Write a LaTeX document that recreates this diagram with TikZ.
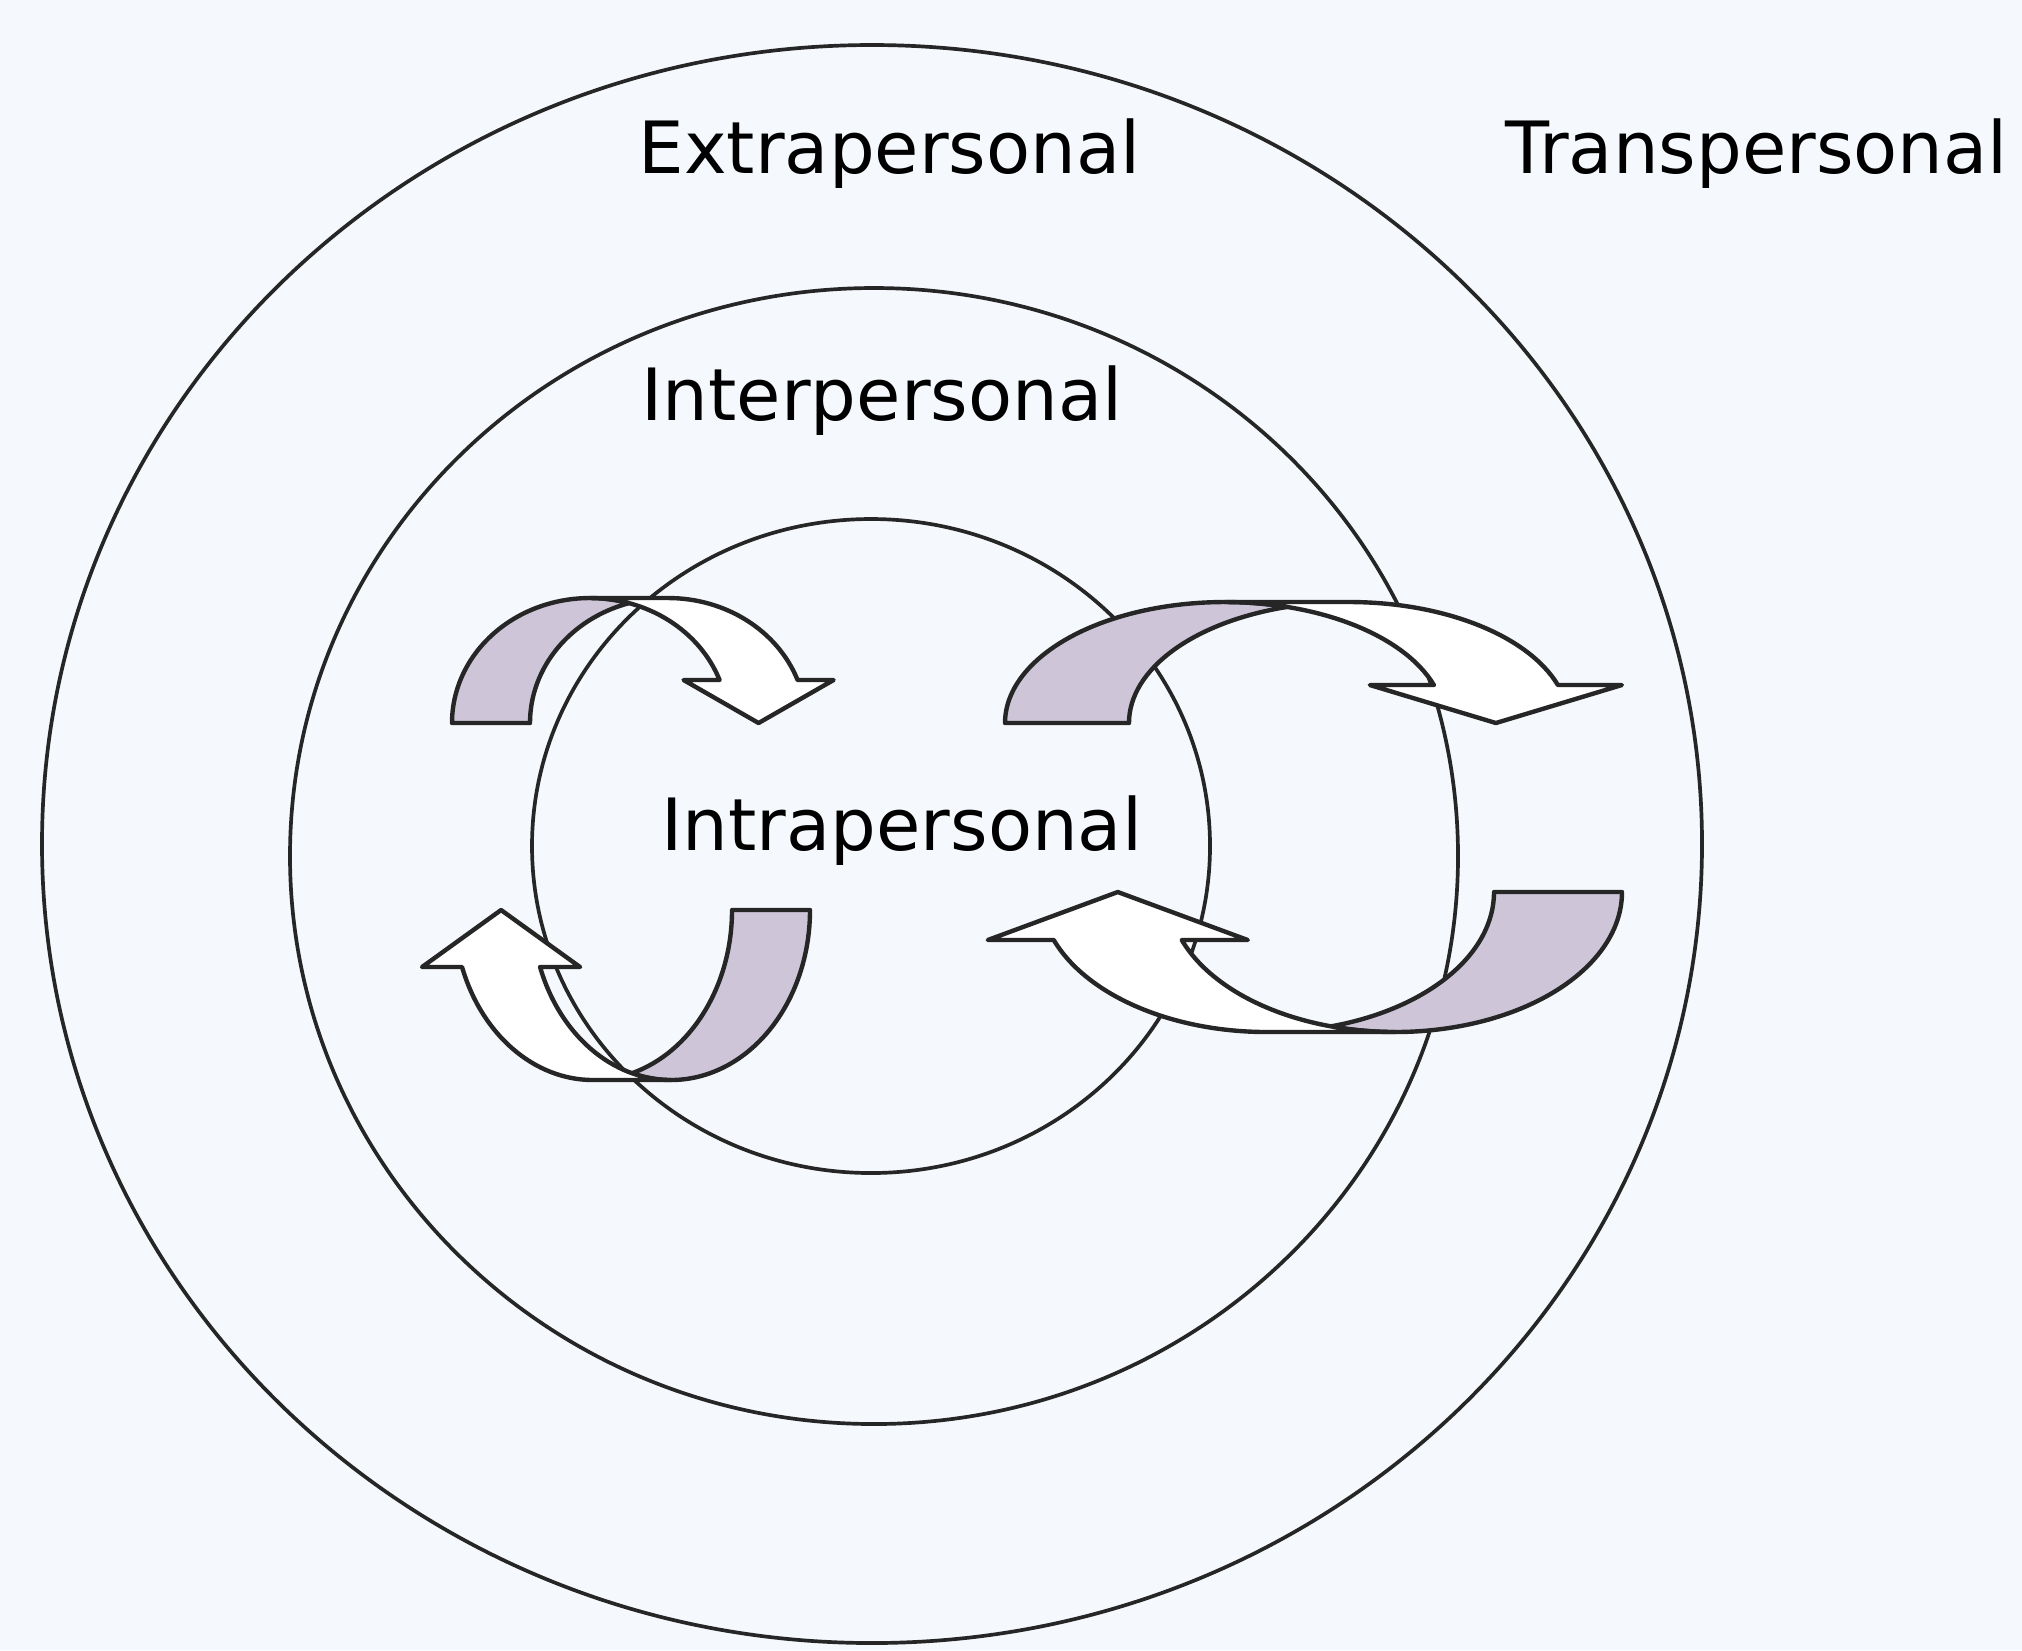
\documentclass[tikz,border=0pt]{standalone}
\usepackage{fontspec}
\setmainfont{DejaVu Sans}
\usepackage{xcolor}
\usepackage{tikz}
\usetikzlibrary{calc}
\definecolor{paper}{RGB}{245,248,252}
\definecolor{backshade}{RGB}{206,198,216}
\tikzstyle{ring}     =[draw=black!85, line width=1.05pt]
\tikzstyle{backface} =[draw=black!85, fill=backshade, line width=1.25pt, line join=round]
\tikzstyle{arrbody}  =[draw=black!85, fill=white, line width=1.25pt, line join=round]
\tikzstyle{lbl}      =[font=\fontsize{20.5}{24}\selectfont, anchor=base west, inner sep=0pt]

% curved arrow: back face on the left, arrow head bottom right
% #1 x radius, #2 height, #3 thickness, #4 head length, #5 head overhang
\newcommand{\bentarrow}[5]{%
  \pgfmathsetmacro{\cvW}{#1}%
  \pgfmathsetmacro{\cvH}{#2}%
  \pgfmathsetmacro{\cvT}{#3}%
  \pgfmathsetmacro{\cvA}{#4}%
  \pgfmathsetmacro{\cvD}{#5}%
  \pgfmathsetmacro{\cvAl}{acos(\cvT/(2*\cvW))}%
  \pgfmathsetmacro{\cvBe}{asin(\cvA/\cvH)}%
  \pgfmathsetmacro{\cvX}{\cvW*cos(\cvBe)}%
  \filldraw[backface] (0,0)
    arc[start angle=180, end angle=360-\cvAl, x radius=\cvW, y radius=\cvH]
    arc[start angle=180+\cvAl, end angle=180, x radius=\cvW, y radius=\cvH] -- cycle;
  \filldraw[arrbody] (\cvW,-\cvH) -- (\cvW+\cvT,-\cvH)
    arc[start angle=270, end angle=360-\cvBe, x radius=\cvW, y radius=\cvH]
    -- ++(\cvD,0) -- (\cvW+\cvT/2+\cvX,0) -- (\cvW+\cvX-\cvD,-\cvA) -- (\cvW+\cvX,-\cvA)
    arc[start angle=360-\cvBe, end angle=270, x radius=\cvW, y radius=\cvH] -- cycle;
}

\begin{document}
\begin{tikzpicture}[x=0.01cm, y=-0.01cm]

  % ── page ───────────────────────────────────────────────────────────────────
  \fill[paper] (0,0) rectangle (2022,1650);

  % ── the three spheres ─────────────────────────────────────────────────────
  \draw[ring] (872,844) ellipse [x radius=830, y radius=799];
  \draw[ring] (874,856) ellipse [x radius=584, y radius=568];
  \draw[ring] (871,846) ellipse [x radius=339, y radius=327];

  % ── arrows between intra- and interpersonal ───────────────────────────────
  \begin{scope}[shift={(452,723)}]
    \bentarrow{138}{125}{78}{43}{36}
  \end{scope}
  \begin{scope}[shift={(810,910)}, rotate=180]
    \bentarrow{139}{170}{78}{57}{40}
  \end{scope}

  % ── arrows between inter- and extrapersonal ───────────────────────────────
  \begin{scope}[shift={(1005,723)}]
    \bentarrow{220}{121}{124}{38}{64}
  \end{scope}
  \begin{scope}[shift={(1622,892)}, rotate=180]
    \bentarrow{227}{140}{128}{48}{66}
  \end{scope}

  % ── labels ─────────────────────────────────────────────────────────────────
  \node[lbl] (extra) at (638,173)  {Extrapersonal};
  \node[lbl] (trans) at (1505,173) {Transpersonal};
  \node[lbl] (inter) at (641,420)  {Interpersonal};
  \node[lbl] (intra) at (661,850)  {Intrapersonal};

\end{tikzpicture}
\end{document}
